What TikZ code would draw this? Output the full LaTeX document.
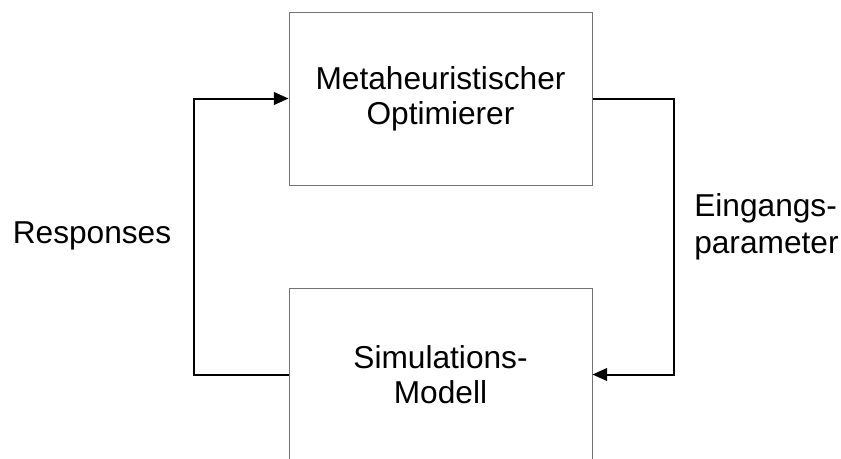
\documentclass[tikz,border=0pt]{standalone}
\usepackage{fontspec}
\setmainfont{Liberation Sans}
\usetikzlibrary{arrows.meta}
\begin{document}
\begin{tikzpicture}[x=0.75pt,y=-0.75pt,
  blockbox/.style={draw=black!55,line width=0.75pt,minimum width=227.25pt,minimum height=129.75pt,align=center,inner sep=0pt,font=\fontsize{23.75}{26.5}\selectfont},
  lbl/.style={inner sep=0pt,align=left,font=\fontsize{23.75}{27.5}\selectfont},
  conn/.style={line width=1.5pt,-{Triangle[length=11pt,width=9.5pt]}}]
\useasboundingbox (0,0) rectangle (841,458);
\clip (0,0) rectangle (841,458);
\node[blockbox] (opt) at (440.5,98.5) {Metaheuristischer\\Optimierer};
\node[blockbox] (sim) at (440.5,374.5) {Simulations-\\Modell};
\coordinate (lc) at (194,0);
\coordinate (rc) at (674,0);
\draw[conn] (sim.west) -- (sim.west -| lc) -- (opt.west -| lc) -- (opt.west);
\draw[conn] (opt.east) -- (opt.east -| rc) -- (sim.east -| rc) -- (sim.east);
\node[lbl] (resp) at (92,236) {Responses};
\node[lbl,anchor=west] (ein) at (694,227) {Eingangs-\\parameter};
\end{tikzpicture}
\end{document}
